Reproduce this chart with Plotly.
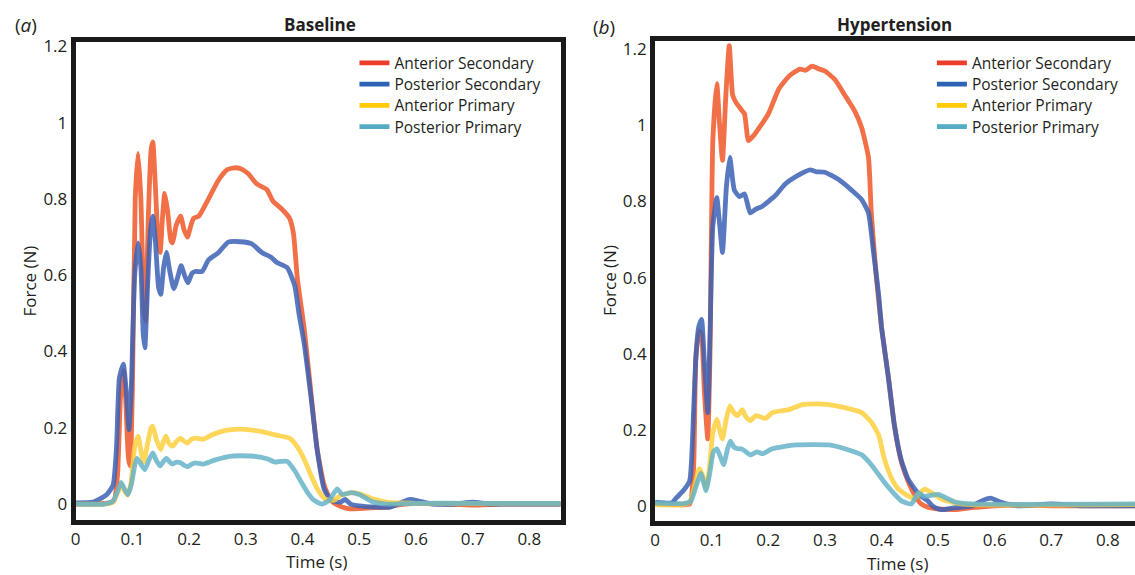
import plotly.graph_objects as go

# ---------------- data ----------------
series_names = ["Anterior Secondary", "Posterior Secondary", "Anterior Primary", "Posterior Primary"]

# Baseline panel
t_base_ant_sec = [0, 0.03, 0.06, 0.068, 0.074, 0.079, 0.084, 0.088, 0.093, 0.096, 0.100, 0.105, 0.110, 0.115, 0.120,
                  0.123, 0.128, 0.133, 0.136, 0.140, 0.145, 0.149, 0.153, 0.157, 0.162, 0.168, 0.171, 0.177, 0.185,
                  0.191, 0.197, 0.203, 0.208, 0.217, 0.234, 0.252, 0.267, 0.28, 0.29, 0.304, 0.319, 0.337, 0.348,
                  0.362, 0.377, 0.384, 0.391, 0.403, 0.415, 0.426, 0.438, 0.45, 0.465, 0.48, 0.50, 0.52, 0.548,
                  0.57, 0.60, 0.65, 0.70, 0.75, 0.80, 0.86]
f_base_ant_sec = [0.0, 0.0, 0.003, 0.01, 0.08, 0.28, 0.35, 0.28, 0.12, 0.10, 0.30, 0.80, 0.92, 0.80, 0.52,
                  0.48, 0.75, 0.93, 0.95, 0.85, 0.70, 0.66, 0.75, 0.815, 0.77, 0.69, 0.685, 0.73, 0.755,
                  0.72, 0.70, 0.73, 0.75, 0.755, 0.80, 0.85, 0.877, 0.882, 0.88, 0.867, 0.84, 0.825, 0.794,
                  0.776, 0.75, 0.71, 0.59, 0.46, 0.29, 0.142, 0.05, 0.01, -0.005, -0.012, -0.012, -0.01, -0.008,
                  -0.002, 0.002, 0.0, -0.003, 0.0, 0.0, 0.0]

t_base_post_sec = [0, 0.03, 0.042, 0.055, 0.066, 0.072, 0.077, 0.084, 0.089, 0.094, 0.098, 0.104, 0.110, 0.115,
                   0.119, 0.122, 0.127, 0.132, 0.136, 0.141, 0.146, 0.150, 0.155, 0.160, 0.166, 0.173, 0.179,
                   0.186, 0.192, 0.198, 0.205, 0.211, 0.223, 0.234, 0.252, 0.269, 0.29, 0.31, 0.328, 0.345,
                   0.354, 0.373, 0.386, 0.394, 0.403, 0.415, 0.426, 0.438, 0.45, 0.467, 0.475, 0.485, 0.50,
                   0.53, 0.555, 0.575, 0.59, 0.605, 0.63, 0.67, 0.70, 0.73, 0.80, 0.86]
f_base_post_sec = [0.003, 0.005, 0.013, 0.025, 0.05, 0.15, 0.33, 0.367, 0.30, 0.195, 0.30, 0.60, 0.685, 0.62,
                   0.45, 0.41, 0.58, 0.72, 0.755, 0.68, 0.57, 0.55, 0.62, 0.66, 0.61, 0.565, 0.59,
                   0.625, 0.60, 0.58, 0.605, 0.61, 0.61, 0.64, 0.66, 0.687, 0.688, 0.683, 0.66, 0.647,
                   0.634, 0.62, 0.574, 0.497, 0.42, 0.28, 0.14, 0.04, 0.01, 0.005, 0.012, 0.0, -0.005,
                   -0.008, -0.008, 0.005, 0.012, 0.008, 0.0, 0.0, 0.005, 0.0, 0.0, 0.0]

t_base_ant_pri = [0, 0.05, 0.066, 0.074, 0.080, 0.086, 0.092, 0.098, 0.104, 0.110, 0.115, 0.120, 0.127, 0.133,
                  0.136, 0.142, 0.150, 0.155, 0.159, 0.165, 0.171, 0.178, 0.185, 0.191, 0.197, 0.204, 0.211,
                  0.225, 0.24, 0.264, 0.28, 0.298, 0.328, 0.356, 0.377, 0.39, 0.403, 0.415, 0.426, 0.44,
                  0.456, 0.467, 0.49, 0.50, 0.525, 0.548, 0.60, 0.70, 0.86]
f_base_ant_pri = [0.0, 0.0, 0.005, 0.03, 0.05, 0.035, 0.023, 0.06, 0.15, 0.178, 0.14, 0.11, 0.16, 0.20,
                  0.204, 0.17, 0.143, 0.165, 0.178, 0.158, 0.152, 0.165, 0.173, 0.165, 0.16, 0.17, 0.173,
                  0.17, 0.181, 0.193, 0.196, 0.196, 0.19, 0.18, 0.173, 0.152, 0.117, 0.075, 0.04, 0.013,
                  0.01, 0.023, 0.03, 0.027, 0.013, 0.005, 0.002, 0.002, 0.002]

t_base_post_pri = [0, 0.05, 0.066, 0.074, 0.080, 0.086, 0.092, 0.098, 0.104, 0.108, 0.115, 0.122, 0.129, 0.136,
                   0.142, 0.149, 0.155, 0.160, 0.166, 0.171, 0.178, 0.185, 0.191, 0.197, 0.204, 0.211, 0.225,
                   0.246, 0.275, 0.31, 0.339, 0.351, 0.362, 0.373, 0.386, 0.398, 0.409, 0.42, 0.434, 0.447,
                   0.461, 0.47, 0.485, 0.50, 0.525, 0.55, 0.60, 0.70, 0.86]
f_base_post_pri = [0.0, 0.0, 0.008, 0.035, 0.057, 0.04, 0.025, 0.05, 0.10, 0.12, 0.105, 0.09, 0.115, 0.134,
                   0.115, 0.10, 0.112, 0.12, 0.11, 0.105, 0.11, 0.108, 0.102, 0.098, 0.104, 0.108, 0.105,
                   0.116, 0.126, 0.126, 0.118, 0.11, 0.112, 0.112, 0.088, 0.057, 0.03, 0.01, 0.0, 0.01,
                   0.04, 0.025, 0.03, 0.025, 0.005, 0.0, 0.002, 0.002, 0.002]

# Hypertension panel
t_hyp_ant_sec = [0, 0.04, 0.061, 0.068, 0.072, 0.078, 0.082, 0.087, 0.093, 0.097, 0.102, 0.109, 0.114, 0.119,
                 0.125, 0.131, 0.137, 0.143, 0.148, 0.153, 0.158, 0.165, 0.175, 0.184, 0.20, 0.219, 0.237,
                 0.256, 0.266, 0.277, 0.29, 0.30, 0.318, 0.335, 0.353, 0.365, 0.377, 0.382, 0.391, 0.40,
                 0.412, 0.423, 0.435, 0.447, 0.458, 0.47, 0.485, 0.50, 0.53, 0.56, 0.60, 0.65, 0.70, 0.85]
f_hyp_ant_sec = [0.005, 0.003, 0.005, 0.1, 0.39, 0.46, 0.45, 0.3, 0.176, 0.4, 0.96, 1.11, 1.0, 0.908,
                 1.08, 1.21, 1.08, 1.06, 1.05, 1.04, 1.03, 0.96, 0.975, 0.994, 1.03, 1.097, 1.13,
                 1.148, 1.145, 1.156, 1.148, 1.143, 1.12, 1.08, 1.037, 0.994, 0.916, 0.77, 0.6, 0.47,
                 0.34, 0.21, 0.116, 0.065, 0.03, 0.005, -0.005, -0.008, -0.01, -0.005, 0.0, 0.002, 0.0, 0.0]

t_hyp_post_sec = [0, 0.03, 0.037, 0.05, 0.061, 0.068, 0.072, 0.077, 0.082, 0.087, 0.093, 0.097, 0.102, 0.109,
                  0.114, 0.119, 0.126, 0.132, 0.14, 0.149, 0.158, 0.168, 0.178, 0.189, 0.212, 0.23, 0.254,
                  0.274, 0.285, 0.30, 0.325, 0.347, 0.365, 0.377, 0.386, 0.395, 0.40, 0.412, 0.423, 0.435,
                  0.447, 0.458, 0.47, 0.482, 0.49, 0.50, 0.51, 0.53, 0.56, 0.58, 0.593, 0.61, 0.64, 0.70,
                  0.75, 0.85]
f_hyp_post_sec = [0.01, 0.008, 0.02, 0.04, 0.065, 0.25, 0.39, 0.47, 0.49, 0.38, 0.245, 0.45, 0.735, 0.81,
                  0.74, 0.666, 0.84, 0.916, 0.83, 0.813, 0.82, 0.77, 0.78, 0.787, 0.815, 0.846, 0.87,
                  0.883, 0.878, 0.877, 0.857, 0.83, 0.805, 0.77, 0.666, 0.555, 0.47, 0.34, 0.21, 0.12,
                  0.07, 0.046, 0.025, 0.013, 0.0, -0.008, -0.01, -0.005, 0.0, 0.015, 0.02, 0.01, 0.0, 0.005,
                  0.0, 0.0]

t_hyp_ant_pri = [0, 0.05, 0.061, 0.068, 0.072, 0.078, 0.084, 0.09, 0.096, 0.102, 0.109, 0.114, 0.119, 0.126,
                 0.132, 0.139, 0.146, 0.154, 0.16, 0.168, 0.178, 0.195, 0.207, 0.225, 0.237, 0.26, 0.285,
                 0.307, 0.335, 0.365, 0.382, 0.395, 0.405, 0.418, 0.43, 0.447, 0.458, 0.476, 0.493, 0.51,
                 0.53, 0.56, 0.85]
f_hyp_ant_pri = [0.003, 0.003, 0.01, 0.04, 0.065, 0.098, 0.08, 0.046, 0.1, 0.193, 0.227, 0.2, 0.176, 0.23,
                 0.263, 0.245, 0.237, 0.253, 0.235, 0.224, 0.237, 0.23, 0.245, 0.25, 0.253, 0.266, 0.268,
                 0.266, 0.258, 0.245, 0.22, 0.186, 0.124, 0.072, 0.044, 0.026, 0.02, 0.044, 0.03, 0.015,
                 0.008, 0.003, 0.003]

t_hyp_post_pri = [0, 0.05, 0.063, 0.072, 0.081, 0.086, 0.09, 0.097, 0.103, 0.109, 0.115, 0.121, 0.128, 0.133,
                  0.139, 0.146, 0.152, 0.158, 0.168, 0.18, 0.19, 0.207, 0.248, 0.307, 0.342, 0.365, 0.382,
                  0.40, 0.418, 0.435, 0.453, 0.465, 0.475, 0.49, 0.50, 0.53, 0.56, 0.85]
f_hyp_post_pri = [0.008, 0.006, 0.012, 0.05, 0.085, 0.06, 0.04, 0.09, 0.142, 0.15, 0.13, 0.108, 0.15, 0.17,
                  0.155, 0.15, 0.15, 0.145, 0.134, 0.142, 0.137, 0.15, 0.16, 0.16, 0.147, 0.134, 0.108,
                  0.072, 0.039, 0.013, 0.005, 0.034, 0.025, 0.028, 0.03, 0.01, 0.005, 0.005]

x_ticks = [0, 0.1, 0.2, 0.3, 0.4, 0.5, 0.6, 0.7, 0.8]
x_tick_text = ["0", "0.1", "0.2", "0.3", "0.4", "0.5", "0.6", "0.7", "0.8"]
y_ticks = [0, 0.2, 0.4, 0.6, 0.8, 1.0, 1.2]
y_tick_text = ["0", "0.2", "0.4", "0.6", "0.8", "1", "1.2"]

# ---------------- styling ----------------
W, H = 1135, 575
FONT = "Open Sans"
TXT = "#231f20"
line_colors = ["rgba(238,87,40,0.85)", "rgba(59,96,181,0.85)", "rgba(253,207,61,0.85)", "rgba(102,179,200,0.85)"]
legend_colors = ["#ee3d2a", "#2d63b4", "#ffcb05", "#55acc5"]
LW = 4.8

def px_x(p):
    return p / W

def px_y(p):
    return 1 - p / H

fig = go.Figure()

panels = [
    ("x", "y", 351,
     [(t_base_ant_sec, f_base_ant_sec), (t_base_post_sec, f_base_post_sec),
      (t_base_ant_pri, f_base_ant_pri), (t_base_post_pri, f_base_post_pri)]),
    ("x2", "y2", 931,
     [(t_hyp_ant_sec, f_hyp_ant_sec), (t_hyp_post_sec, f_hyp_post_sec),
      (t_hyp_ant_pri, f_hyp_ant_pri), (t_hyp_post_pri, f_hyp_post_pri)]),
]

legend_rows = [57, 78.5, 100, 121.5]
legend_layout = {}
leg_idx = 0
for xa, ya, leg_x, data in panels:
    for i, (tt, ff) in enumerate(data):
        fig.add_trace(go.Scatter(x=tt, y=ff, mode="lines", xaxis=xa, yaxis=ya,
                                 line=dict(color=line_colors[i], width=LW, shape="spline", smoothing=0.5),
                                 showlegend=False, hoverinfo="skip"))
    for i, name in enumerate(series_names):
        leg_idx += 1
        lname = "legend" if leg_idx == 1 else f"legend{leg_idx}"
        fig.add_trace(go.Scatter(x=[None], y=[None], mode="lines", xaxis=xa, yaxis=ya,
                                 name=name, legend=lname,
                                 line=dict(color=legend_colors[i], width=LW)))
        legend_layout[lname] = dict(x=px_x(leg_x), y=px_y(legend_rows[i]), xanchor="left", yanchor="middle",
                                    bgcolor="rgba(0,0,0,0)", borderwidth=0,
                                    font=dict(family=FONT, size=15.5, color=TXT), itemclick=False)

axis_common = dict(showline=True, linewidth=5, linecolor="#1a1a1a", showgrid=False, zeroline=False,
                   ticks="", tickfont=dict(family=FONT, size=17, color=TXT))

fig.update_layout(
    width=W, height=H,
    margin=dict(l=0, r=0, t=0, b=0),
    paper_bgcolor="white", plot_bgcolor="white",
    font=dict(family=FONT, color=TXT),
    xaxis=dict(domain=[px_x(71), px_x(558)], range=[0, 0.855], mirror=True, anchor="y",
               tickvals=x_ticks, ticktext=x_tick_text, **axis_common),
    yaxis=dict(domain=[px_y(519), px_y(35)], range=[-0.041, 1.213], mirror=True, anchor="x",
               tickvals=y_ticks, ticktext=y_tick_text, **axis_common),
    xaxis2=dict(domain=[px_x(653), 1.0], range=[0, 0.848], mirror=True, anchor="y2",
                tickvals=x_ticks, ticktext=x_tick_text, **axis_common),
    yaxis2=dict(domain=[px_y(520), px_y(34)], range=[-0.039, 1.223], mirror=False, anchor="x2",
                tickvals=y_ticks, ticktext=y_tick_text, **axis_common),
    showlegend=True,
    **legend_layout,
)

annos = [
    dict(text="<b>Baseline</b>", x=px_x(316), y=px_y(18), size=17),
    dict(text="<b>Hypertension</b>", x=px_x(893), y=px_y(18), size=17),
    dict(text="(<i>a</i>)", x=px_x(21), y=px_y(18), size=19),
    dict(text="(<i>b</i>)", x=px_x(602), y=px_y(20), size=19),
    dict(text="Time (s)", x=px_x(313), y=px_y(561), size=17),
    dict(text="Time (s)", x=px_x(896), y=px_y(563), size=17),
]
for a in annos:
    fig.add_annotation(text=a["text"], x=a["x"], y=a["y"], xref="paper", yref="paper",
                       showarrow=False, xanchor="center", yanchor="middle",
                       font=dict(family=FONT, size=a["size"], color=TXT))
for xp in (25, 607):
    fig.add_annotation(text="Force (N)", x=px_x(xp), y=px_y(277), xref="paper", yref="paper",
                       showarrow=False, textangle=-90, xanchor="center", yanchor="middle",
                       font=dict(family=FONT, size=17, color=TXT))

fig.write_html("out.html", config={"displayModeBar": False},
               post_script="document.body.style.margin='0';document.body.style.overflow='hidden';")
